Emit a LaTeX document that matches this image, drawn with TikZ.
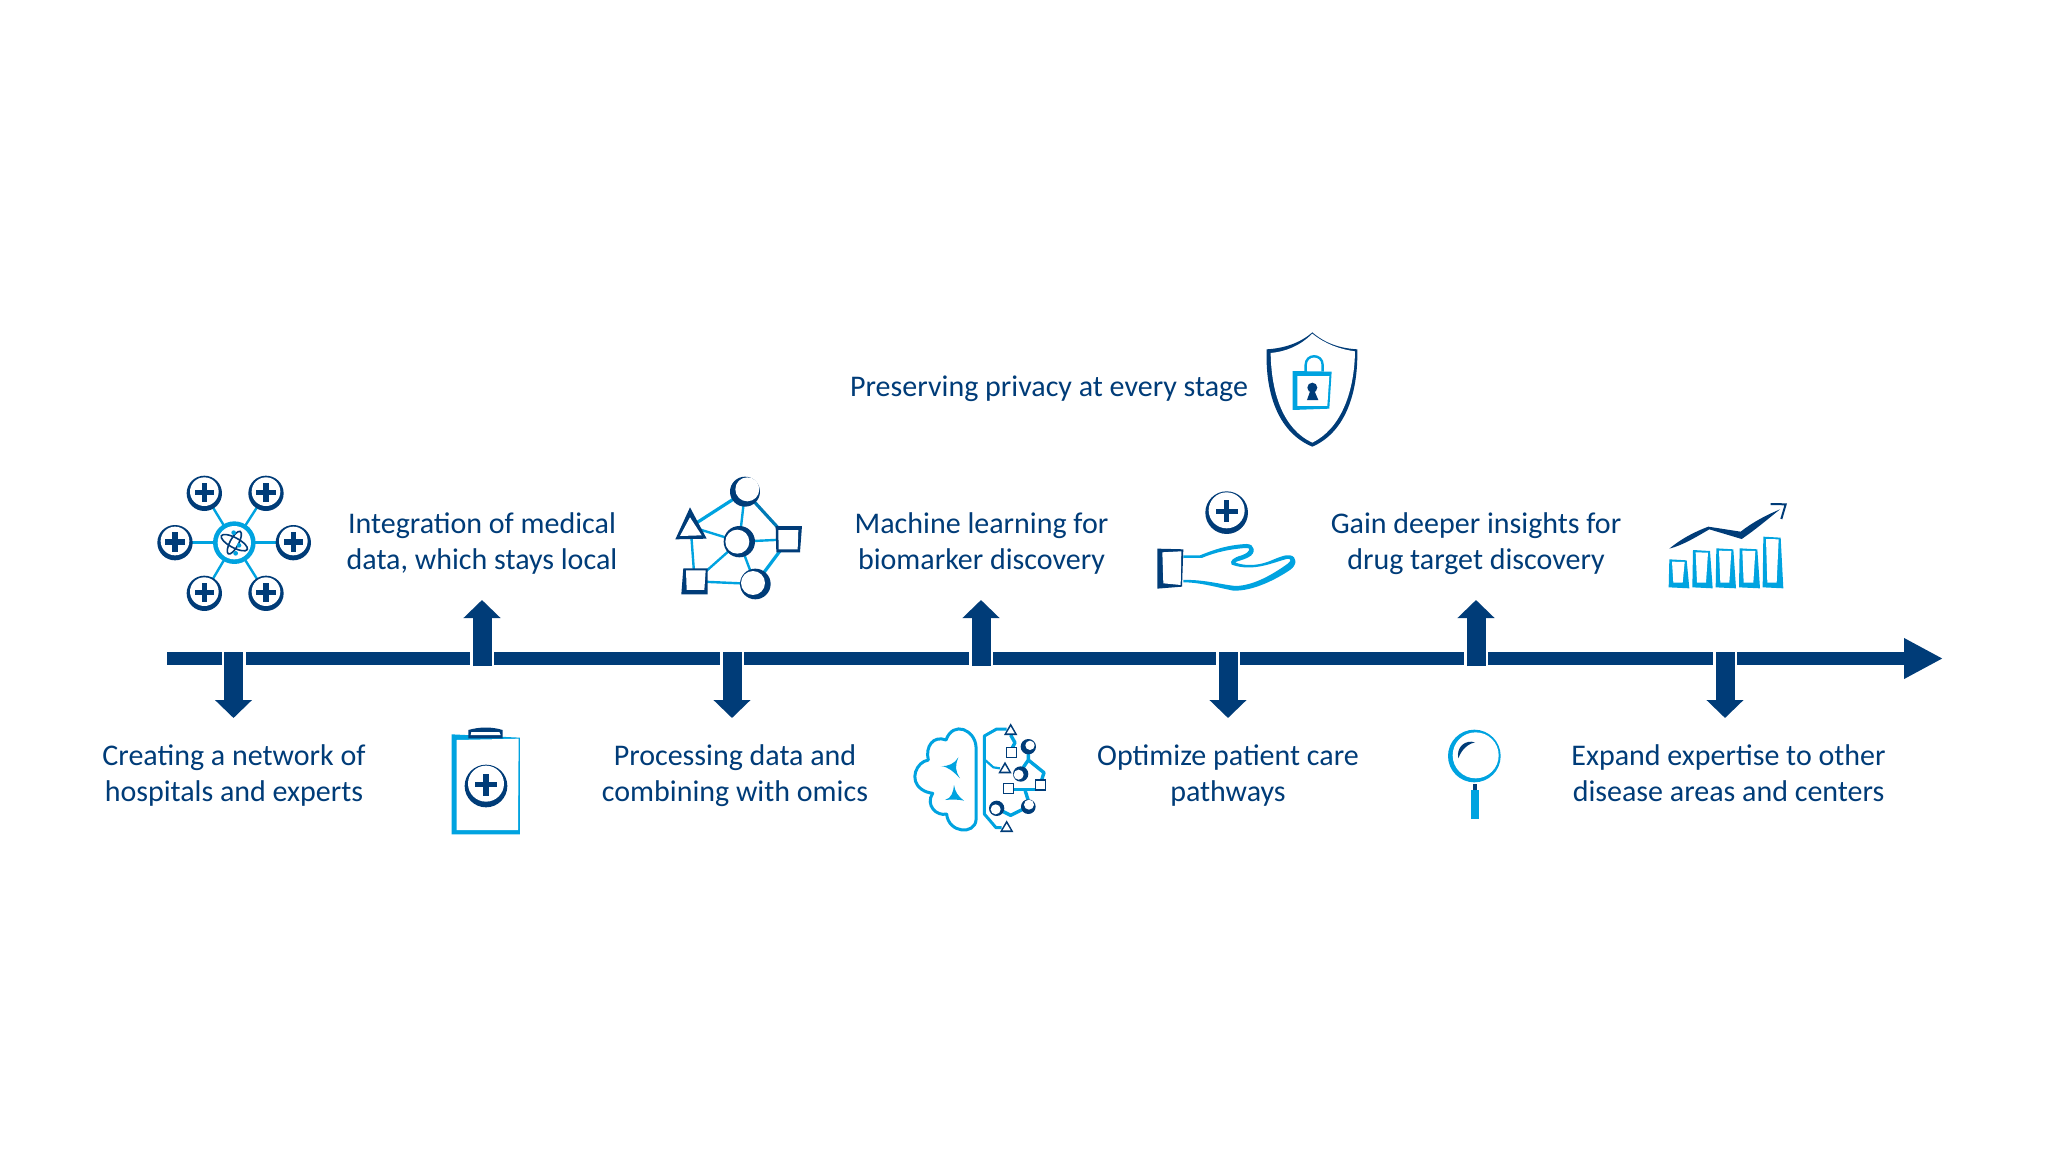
\documentclass[tikz,border=0pt]{standalone}
\usepackage{fontspec}
\setmainfont{Carlito}
\usetikzlibrary{arrows.meta}
\definecolor{dk}{RGB}{0,60,120}
\definecolor{lb}{RGB}{0,163,224}
\tikzset{
  lbl/.style={text=dk,align=center,font=\fontsize{30}{36}\selectfont,inner sep=0pt},
  axis/.style={draw=dk,line width=13pt,-{Triangle[length=39pt,width=38pt]}},
  tick/.style={draw=dk,line width=19pt,-{Triangle[length=18pt,width=36pt]}},
  gap/.style={draw=white,line width=24pt},
  link/.style={draw=lb,line width=2.4pt},
  blink/.style={draw=lb,line width=3.2pt,line join=round},
  icon/.style={x=0.3333pt,y=-0.3333pt}
}
\newcommand{\crs}[4]{\fill[dk] #1 circle (#2);\fill[white] #3 circle (#4);}
\newcommand{\pls}[3]{\begin{scope}[shift={#1}]\fill[dk] (-#2,-#3) rectangle (#2,#3);\fill[dk] (-#3,-#2) rectangle (#3,#2);\end{scope}}
\newcommand{\plc}[1]{\begin{scope}[shift={#1}]\fill[dk] (0,0) circle (53);\fill[white] (0,-5) circle (43);\pls{(0,-2)}{29}{8}\end{scope}}
\newcommand{\bigplc}[1]{\begin{scope}[shift={#1}]\fill[dk] (0,0) circle (64);\fill[white] (0,-7) circle (54);\pls{(0,-4)}{33}{8}\end{scope}}
\begin{document}
\begin{tikzpicture}[x=1pt,y=-1pt]
\useasboundingbox (0,0) rectangle (2048,1152);
\fill[white] (0,0) rectangle (2048,1152);
% axis
\coordinate (axisA) at (167,658.5);
\coordinate (axisB) at (1943,658.5);
\draw[axis] (axisA) -- (axisB);
% ticks
\foreach \n/\x in {a/233.5,c/732,e/1228,g/1725}{
  \coordinate (\n0) at (\x,652);
  \coordinate (\n1) at (\x,718);
  \coordinate (\n2) at (\x,672);
  \draw[gap] (\n0) -- (\n2);
  \draw[tick] (\n0) -- (\n1);
}
\foreach \n/\x in {b/482,d/981,f/1476}{
  \coordinate (\n0) at (\x,666);
  \coordinate (\n1) at (\x,600);
  \coordinate (\n2) at (\x,644);
  \draw[gap] (\n0) -- (\n2);
  \draw[tick] (\n0) -- (\n1);
}
% labels
\node[lbl] (t1) at (234,775.5) {Creating a network of\\hospitals and experts\vphantom{p}};
\node[lbl] (t2) at (482,543.5) {Integration of medical\\data, which stays local\vphantom{p}};
\node[lbl] (t3) at (735,775.5) {Processing data and\\combining with omics\vphantom{p}};
\node[lbl] (t4) at (981.5,543.5) {Machine learning for\\biomarker discovery\vphantom{p}};
\node[lbl] (t5) at (1228,775.5) {Optimize patient care\\pathways\vphantom{p}};
\node[lbl] (t6) at (1476,543.5) {Gain deeper insights for\\drug target discovery\vphantom{p}};
\node[lbl] (t7) at (1728.5,775.5) {Expand expertise to other\\disease areas and centers\vphantom{p}};
\node[lbl] (t8) at (1049,389) {Preserving privacy at every stage};
% network of hospitals
\begin{scope}[shift={(140,460)},icon]
 \coordinate (h0) at (283,248);
 \coordinate (h1) at (193,100); \coordinate (h2) at (378,100);
 \coordinate (h3) at (105,248); \coordinate (h4) at (460,248);
 \coordinate (h5) at (193,400); \coordinate (h6) at (378,400);
 \foreach \i in {1,...,6}{\draw[link] (h0) -- (h\i);}
 \foreach \i in {1,...,6}{\plc{(h\i)}}
 \fill[lb] (h0) circle (64);
 \fill[white] (h0) circle (50);
 \begin{scope}[shift={(h0)}]
  \draw[dk,line width=1.6pt,rotate=-28] (0,0) ellipse (44 and 15);
  \draw[dk,line width=1.6pt,rotate=62] (0,0) ellipse (38 and 13);
  \fill[lb] (-2,-30) circle (7);
  \fill[lb] (14,8) circle (7);
  \fill[lb] (4,32) circle (7);
 \end{scope}
\end{scope}
% clipboard
\begin{scope}[shift={(430,710)},icon]
 \fill[lb] (65,73) -- (270,83) -- (270,373) -- (65,373) -- cycle;
 \fill[white] (80,90) -- (266,86) -- (264,360) -- (80,360) -- cycle;
 \fill[dk] (115,60) .. controls (150,50) and (185,50) .. (218,60) -- (218,85) -- (115,85) -- cycle;
 \fill[white] (124,66) -- (208,66) -- (212,75) -- (122,75) -- cycle;
 \bigplc{(168,228)}
\end{scope}
% omics network
\begin{scope}[shift={(650,460)},icon]
 \coordinate (n1) at (285,95); \coordinate (n2) at (122,200);
 \coordinate (n3) at (268,245); \coordinate (n4) at (416,238);
 \coordinate (n5) at (134,364); \coordinate (n6) at (316,372);
 \draw[blink] (n1) -- (n2);
 \draw[link] (n1) -- (n3);
 \draw[blink,dk!40!lb] (n1) -- (n4);
 \draw[link] (n2) -- (n3);
 \draw[link] (n3) -- (n4);
 \draw[link] (n3) -- (n6);
 \draw[link] (n3) -- (n5);
 \draw[link] (n2) -- (n5);
 \draw[link] (n5) -- (n6);
 \draw[blink] (n6) -- (n4);
 \crs{(n1)}{45}{(292,88)}{36}
 \crs{(n3)}{47}{(262,245)}{36}
 \crs{(n6)}{46}{(309,369)}{36}
 \fill[dk] (120,142) -- (76,238) -- (170,236) -- cycle;
 \fill[white] (120,172) -- (90,228) -- (155,226) -- cycle;
 \fill[dk] (377,198) -- (456,198) -- (450,277) -- (379,277) -- cycle;
 \fill[white] (385,210) -- (445,210) -- (443,268) -- (386,268) -- cycle;
 \fill[dk] (100,325) -- (173,325) -- (173,403) -- (94,403) -- cycle;
 \fill[white] (108,331) -- (167,331) -- (163,390) -- (110,390) -- cycle;
\end{scope}
% brain
\begin{scope}[shift={(890,710)},icon]
 \draw[lb,line width=3pt,line join=round]
  (258,330) -- (258,110)
  .. controls (255,60) and (190,30) .. (168,90)
  .. controls (130,75) and (105,110) .. (115,150)
  .. controls (80,155) and (55,210) .. (95,238)
  .. controls (105,245) and (115,248) .. (128,250)
  .. controls (105,285) and (140,320) .. (170,312)
  .. controls (175,370) and (255,375) .. (258,330);
 \fill[lb] (152,168) .. controls (175,170) and (195,160) .. (205,142) .. controls (195,170) and (195,180) .. (210,205) .. controls (190,185) and (175,170) .. cycle;
 \fill[lb] (165,270) .. controls (185,265) and (190,245) .. (192,225) .. controls (195,245) and (205,260) .. (222,272) .. controls (205,268) and (185,268) .. cycle;
 \draw[lb,line width=3pt,line join=round] (350,57) -- (320,57) -- (283,78) -- (283,312) -- (318,353) -- (335,353);
 \draw[lb,line width=2.2pt,line join=round] (283,148) -- (310,172) -- (330,175);
 \draw[lb,line width=3.4pt,line join=round] (362,75) -- (375,98) -- (366,115);
 \draw[lb,line width=3.4pt,line join=round] (415,125) -- (415,150) -- (400,172);
 \draw[lb,line width=3.4pt,line join=round] (415,150) -- (462,188) -- (455,210);
 \draw[lb,line width=3.4pt,line join=round] (372,238) -- (438,238);
 \draw[lb,line width=3.4pt,line join=round] (405,240) -- (415,272);
 \draw[lb,line width=3.4pt,line join=round] (340,305) -- (362,316) -- (398,298);
 \foreach \cx/\cy in {362/40,345/155,350/331}{
  \begin{scope}[shift={(\cx,\cy)}]
   \fill[dk] (0,0) -- (-20,35) -- (20,35) -- cycle;
   \fill[white] (0,10) -- (-12,30) -- (12,30) -- cycle;
  \end{scope}}
 \foreach \cx/\cy in {365/127,452/225,355/235}{
  \begin{scope}[shift={(\cx,\cy)}]
   \fill[dk] (-17,-17) rectangle (17,17);
   \fill[white] (-13,-13) rectangle (13,13);
  \end{scope}}
 \crs{(415,110)}{23}{(420,106)}{14}
 \crs{(392,192)}{23}{(386,194)}{15}
 \crs{(415,290)}{22}{(417,284)}{15}
 \crs{(320,295)}{23}{(317,298)}{15}
\end{scope}
% shield, hand
\begin{scope}[shift={(1140,320)},icon]
 \fill[dk] (517,37) .. controls (480,70) and (430,85) .. (380,88)
   .. controls (375,230) and (420,340) .. (517,380)
   .. controls (610,340) and (655,230) .. (652,88)
   .. controls (600,85) and (555,70) .. (517,37) -- cycle;
 \fill[white] (517,41) .. controls (480,78) and (437,95) .. (392,99)
   .. controls (394,225) and (432,328) .. (517,368)
   .. controls (598,328) and (643,225) .. (645,94)
   .. controls (600,88) and (555,72) .. (517,41) -- cycle;
 \fill[lb] (458,153) -- (575,155) -- (568,266) -- (458,270) -- cycle;
 \fill[white] (472,168) -- (568,168) -- (562,258) -- (472,258) -- cycle;
 \draw[lb,line width=2.4pt] (497,155) -- (497,135) .. controls (497,100) and (548,100) .. (548,135) -- (548,155);
 \fill[dk] (517,203) circle (15);
 \fill[dk] (511,212) -- (523,212) -- (535,240) -- (501,240) -- cycle;
 \bigplc{(260,578)}
 \fill[lb] (130,706) -- (180,706) .. controls (220,690) and (260,675) .. (320,672)
   .. controls (345,672) and (350,700) .. (325,712)
   .. controls (310,720) and (295,722) .. (285,727)
   .. controls (310,738) and (350,738) .. (385,725)
   .. controls (410,715) and (435,703) .. (450,706)
   .. controls (472,710) and (472,735) .. (450,750)
   .. controls (410,777) and (340,814) .. (280,812)
   .. controls (230,802) and (180,787) .. (130,787)
   -- (130,780)
   .. controls (190,778) and (240,793) .. (285,798)
   .. controls (340,798) and (400,762) .. (442,732)
   .. controls (456,722) and (453,714) .. (440,717)
   .. controls (400,727) and (340,757) .. (275,734)
   .. controls (268,722) and (280,713) .. (305,706)
   .. controls (333,696) and (333,682) .. (318,684)
   .. controls (270,687) and (225,697) .. (185,714)
   -- (130,714) -- cycle;
 \fill[dk] (52,686) -- (130,688) -- (126,800) -- (52,806) -- cycle;
 \fill[white] (67,697) -- (124,694) -- (122,795) -- (70,790) -- cycle;
\end{scope}
% magnifier
\begin{scope}[shift={(1430,710)},icon]
 \fill[lb] (133,138) circle (79);
 \fill[white] (137,136) circle (69);
 \fill[dk] (129,222) rectangle (142,240);
 \fill[lb] (122,240) rectangle (148,326);
 \fill[dk] (85,145) .. controls (78,112) and (105,88) .. (135,97)
   .. controls (112,102) and (94,120) .. (85,145) -- cycle;
\end{scope}
% chart
\begin{scope}[shift={(1650,490)},icon]
 \foreach \xa/\ya/\xb in {58/208/118,129/180/188,199/175/258,269/175/330,340/140/400}{
  \fill[lb] (\xa,\ya) -- (\xb-8,\ya+3) -- (\xb,295) -- (\xa-2,292) -- cycle;
  \fill[white] (\xa+8,\ya+7) -- (\xb-14,\ya+8) -- (\xb-20,278) -- (\xa+12,278) -- cycle;
 }
 \fill[dk] (58,176) .. controls (95,145) and (135,125) .. (175,110)
  -- (272,125) .. controls (310,95) and (350,75) .. (390,58)
  .. controls (350,90) and (315,120) .. (275,147)
  -- (178,118) .. controls (140,140) and (100,165) .. (58,176) -- cycle;
 \draw[dk,line width=2pt] (362,42) -- (407,43) -- (394,87);
\end{scope}
\end{tikzpicture}
\end{document}
